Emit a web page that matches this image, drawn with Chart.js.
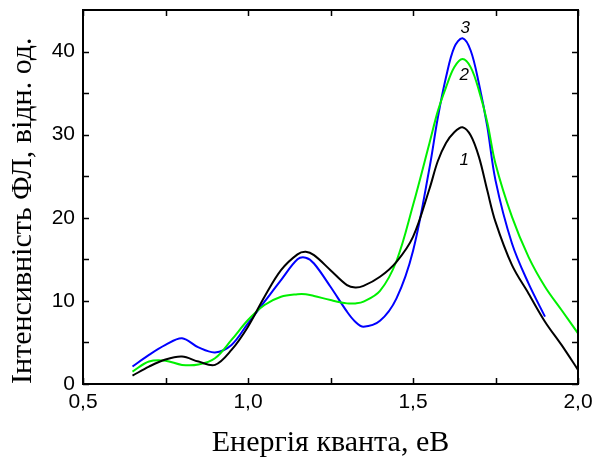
<!DOCTYPE html>
<html>
<head>
<meta charset="utf-8">
<script src="https://cdn.jsdelivr.net/npm/chart.js@4"></script>
<style>
  html, body { margin: 0; padding: 0; background: #fff; }
  canvas { display: block; }
</style>
</head>
<body>
<canvas id="plChart" width="595" height="461"></canvas>
<script>
// photon energy, eV
const energy = [0.65, 0.70, 0.75, 0.80, 0.85, 0.90, 0.95, 1.00, 1.05, 1.10, 1.15, 1.175, 1.20, 1.25, 1.30, 1.325, 1.35, 1.40, 1.45, 1.50, 1.55, 1.575, 1.60, 1.625, 1.65, 1.675, 1.70, 1.725, 1.75, 1.80, 1.85, 1.90, 1.95, 2.00];
// curve 1 (black)
const curve1 = [1.0, 2.1, 2.95, 3.3, 2.7, 2.3, 4.1, 6.9, 10.5, 13.7, 15.6, 15.9, 15.5, 13.7, 11.9, 11.6, 11.8, 12.9, 14.7, 17.7, 23.5, 26.8, 29.0, 30.3, 30.9, 29.9, 27.3, 23.3, 19.5, 14.3, 10.9, 7.5, 4.7, 1.7];
// curve 2 (green)
const curve2 = [1.5, 2.7, 2.8, 2.3, 2.35, 3.1, 5.3, 7.7, 9.5, 10.5, 10.8, 10.8, 10.6, 10.1, 9.7, 9.7, 9.9, 11.2, 14.8, 21.5, 29.0, 32.8, 35.7, 38.1, 39.1, 38.1, 35.3, 31.5, 26.5, 20.1, 15.3, 11.7, 8.9, 6.1];
// curve 3 (blue), measured up to 1.9 eV
const curve3 = [2.1, 3.5, 4.7, 5.5, 4.4, 3.8, 4.7, 7.3, 9.9, 12.5, 15.0, 15.2, 14.5, 11.7, 8.7, 7.5, 6.9, 7.6, 10.3, 16.0, 26.0, 32.0, 36.9, 40.5, 41.6, 40.1, 36.1, 31.0, 24.5, 16.9, 12.1, 8.1, null, null];

const xTicks = [0.5, 1.0, 1.5, 2.0];
const xMinorTicks = [0.5, 0.75, 1.0, 1.25, 1.5, 1.75, 2.0];
const yTicks = [0, 10, 20, 30, 40];
const yMinorTicks = [0, 5, 10, 15, 20, 25, 30, 35, 40];

// curve numbers placed near the main peak
const curveLabels = ['1', '2', '3'];
const curveLabelX = [1.655, 1.655, 1.658];
const curveLabelY = [26.9, 37.1, 42.8];

const toPoints = (ys) => energy.map((x, i) => ({ x: x, y: ys[i] }));

const framePlugin = {
    id: 'frame',
    afterDraw(chart) {
        const ctx = chart.ctx;
        const a = chart.chartArea;
        const xs = chart.scales.x;
        const ys = chart.scales.y;
        const len = 6;
        ctx.save();
        ctx.strokeStyle = '#000';
        ctx.lineWidth = 2;
        ctx.strokeRect(a.left, a.top, a.right - a.left, a.bottom - a.top);
        ctx.lineWidth = 1.5;
        ctx.beginPath();
        xMinorTicks.forEach(v => {
            const px = Math.round(xs.getPixelForValue(v)) + 0.5;
            ctx.moveTo(px, a.bottom); ctx.lineTo(px, a.bottom - len);
            ctx.moveTo(px, a.top); ctx.lineTo(px, a.top + len);
        });
        yMinorTicks.forEach(v => {
            const py = Math.round(ys.getPixelForValue(v)) + 0.5;
            ctx.moveTo(a.left, py); ctx.lineTo(a.left + len, py);
            ctx.moveTo(a.right, py); ctx.lineTo(a.right - len, py);
        });
        ctx.stroke();

        ctx.fillStyle = '#000';
        ctx.font = 'italic 17px "Liberation Sans", Arial, sans-serif';
        ctx.textAlign = 'center';
        ctx.textBaseline = 'middle';
        curveLabels.forEach((t, i) => {
            ctx.fillText(t, xs.getPixelForValue(curveLabelX[i]), ys.getPixelForValue(curveLabelY[i]));
        });
        ctx.restore();
    }
};

const tickFont = { family: '"Liberation Sans", Arial, sans-serif', size: 21 };
const titleFont = { family: '"Liberation Serif", "Times New Roman", serif', size: 30, lineHeight: 1 };

new Chart(document.getElementById('plChart'), {
    type: 'line',
    data: {
        datasets: [
            { label: '1', data: toPoints(curve1), borderColor: '#000000' },
            { label: '2', data: toPoints(curve2), borderColor: '#00f000' },
            { label: '3', data: toPoints(curve3), borderColor: '#0000ff' }
        ]
    },
    options: {
        responsive: false,
        devicePixelRatio: 1,
        animation: false,
        layout: { padding: { top: 10, right: 17, left: 0, bottom: 0 } },
        elements: {
            point: { radius: 0 },
            line: { borderWidth: 2, tension: 0.35, fill: false }
        },
        plugins: {
            legend: { display: false },
            tooltip: { enabled: false }
        },
        scales: {
            x: {
                type: 'linear',
                min: 0.5,
                max: 2.0,
                afterBuildTicks: (s) => { s.ticks = xTicks.map(v => ({ value: v })); },
                afterFit: (s) => { s.height = 77; s.paddingLeft = 0; s.paddingRight = 0; },
                grid: { display: true, drawOnChartArea: false, drawTicks: false },
                border: { display: false },
                ticks: {
                    color: '#000',
                    font: tickFont,
                    padding: 6,
                    maxRotation: 0,
                    callback: (v) => v.toFixed(1).replace('.', ',')
                },
                title: {
                    display: true,
                    text: 'Енергія кванта, еВ',
                    color: '#000',
                    font: titleFont,
                    padding: { top: 0, bottom: 3 }
                }
            },
            y: {
                type: 'linear',
                min: 0,
                max: 45,
                afterBuildTicks: (s) => { s.ticks = yTicks.map(v => ({ value: v })); },
                afterFit: (s) => { s.width = 83; s.paddingTop = 0; s.paddingBottom = 0; },
                grid: { display: true, drawOnChartArea: false, drawTicks: false },
                border: { display: false },
                ticks: { color: '#000', font: tickFont, padding: 8 },
                title: {
                    display: true,
                    text: 'Інтенсивність ФЛ, відн. од.',
                    color: '#000',
                    font: titleFont,
                    align: 'start',
                    padding: { top: 8, bottom: 0 }
                }
            }
        }
    },
    plugins: [framePlugin]
});
</script>
</body>
</html>
